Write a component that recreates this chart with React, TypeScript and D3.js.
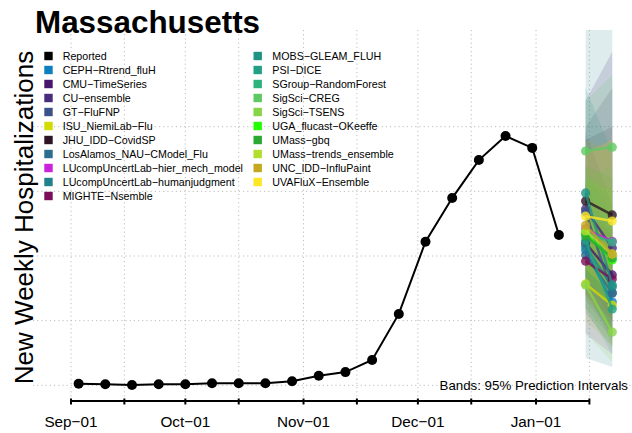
import React from "react";
import * as d3 from "d3";

const reportedDates = [
  "2023-09-03", "2023-09-10", "2023-09-17", "2023-09-24", "2023-10-01",
  "2023-10-08", "2023-10-15", "2023-10-22", "2023-10-29", "2023-11-05",
  "2023-11-12", "2023-11-19", "2023-11-26", "2023-12-03", "2023-12-10",
  "2023-12-17", "2023-12-24", "2023-12-31", "2024-01-07",
];
const reportedValues = [6, 4, 1, 4, 4, 8, 8, 8, 16, 37, 51, 98, 276, 555, 724, 871, 964, 918, 581];

const forecastDates = ["2024-01-14", "2024-01-21"];

const modelNames = [
  "CEPH\u2212Rtrend_fluH",
  "CMU\u2212TimeSeries",
  "CU\u2212ensemble",
  "GT\u2212FluFNP",
  "ISU_NiemiLab\u2212Flu",
  "JHU_IDD\u2212CovidSP",
  "LosAlamos_NAU\u2212CModel_Flu",
  "LUcompUncertLab\u2212hier_mech_model",
  "LUcompUncertLab\u2212humanjudgment",
  "MIGHTE\u2212Nsemble",
  "MOBS\u2212GLEAM_FLUH",
  "PSI\u2212DICE",
  "SGroup\u2212RandomForest",
  "SigSci\u2212CREG",
  "SigSci\u2212TSENS",
  "UGA_flucast\u2212OKeeffe",
  "UMass\u2212gbq",
  "UMass\u2212trends_ensemble",
  "UNC_IDD\u2212InfluPaint",
  "UVAFluX\u2212Ensemble",
];
const modelColors = [
  "#0c7fbf", "#47166e", "#472d7b", "#3b528b", "#d2dc00",
  "#2d1525", "#2c6e8e", "#cc22dd", "#21818c", "#7a0e58",
  "#1e9384", "#21a085", "#2eb37c", "#5ec962", "#86d549",
  "#22ff00", "#2aa832", "#b2de2e", "#c4a820", "#fde725",
];
const pointH1 = [523, 550, 682, 670, 392, 713, 504, 604, 538, 480, 744, 561, 589, 906, 388, 589, 577, 597, 619, 654];
const pointH2 = [322, 427, 531, 357, 310, 659, 357, 557, 380, 411, 388, 295, 554, 921, 206, 485, 492, 508, 507, 635];
const lowerH1 = [300, 330, 420, 380, 250, 500, 280, 200, 106, 350, 400, 300, 420, 650, 200, 420, 350, 300, 350, 450];
const lowerH2 = [180, 200, 250, 160, 150, 380, 150, 120, 71, 250, 200, 120, 300, 500, 90, 300, 200, 150, 200, 350];
const upperH1 = [780, 1100, 1000, 980, 560, 950, 800, 900, 2000, 650, 1150, 850, 800, 1100, 650, 800, 850, 900, 950, 900];
const upperH2 = [560, 1290, 1150, 700, 520, 1000, 700, 950, 2200, 600, 900, 650, 850, 1200, 550, 750, 800, 950, 900, 950];

const tickDates = [
  "2023-09-01", "2023-09-15", "2023-10-01", "2023-10-15", "2023-11-01",
  "2023-11-15", "2023-12-01", "2023-12-15", "2024-01-01", "2024-01-15",
];
const tickLabels = ["Sep\u221201", "", "Oct\u221201", "", "Nov\u221201", "", "Dec\u221201", "", "Jan\u221201", ""];
const gridValues = [0, 250, 500, 750, 1000];

const W = 632;
const H = 433;
const FONT = "'Liberation Sans', Arial, Helvetica, sans-serif";

export default function App() {
  const x = d3
    .scaleUtc()
    .domain([new Date("2023-09-01"), new Date("2024-01-15")])
    .range([71, 589.4]);
  const y = d3.scaleLinear().domain([0, 1000]).range([385.3, 126.7]);

  const plotTop = 30;
  const plotBottom = 397;
  const plotLeft = 33;
  const plotRight = 640;

  const line = d3
    .line<[Date, number]>()
    .x((d) => x(d[0]))
    .y((d) => y(d[1]));

  const reported: [Date, number][] = reportedDates.map((d, i) => [new Date(d), reportedValues[i]]);
  const f1 = new Date(forecastDates[0]);
  const f2 = new Date(forecastDates[1]);

  const area = d3
    .area<{ d: Date; lo: number; hi: number }>()
    .x((p) => x(p.d))
    .y0((p) => y(p.lo))
    .y1((p) => y(p.hi));

  const legendCol1 = ["Reported", ...modelNames.slice(0, 10)];
  const legendCol1Colors = ["#000000", ...modelColors.slice(0, 10)];
  const legendCol2 = modelNames.slice(10);
  const legendCol2Colors = modelColors.slice(10);

  return (
    <svg
      width={W}
      height={H}
      style={{ position: "absolute", left: 0, top: 0, background: "#fff" }}
      fontFamily={FONT}
    >
      <defs>
        <clipPath id="plotclip">
          <rect x={plotLeft} y={plotTop} width={plotRight - plotLeft} height={plotBottom - plotTop} />
        </clipPath>
      </defs>
      <rect x={0} y={0} width={W} height={H} fill="#fff" />

      {/* grid */}
      <g stroke="#bdbdbd" strokeWidth={1} strokeDasharray="1.2,3">
        {gridValues.map((v) => (
          <line key={"h" + v} x1={plotLeft} x2={plotRight} y1={y(v)} y2={y(v)} />
        ))}
        {tickDates.map((t) => (
          <line key={"v" + t} x1={x(new Date(t))} x2={x(new Date(t))} y1={plotTop} y2={plotBottom} />
        ))}
      </g>

      {/* bands */}
      <g clipPath="url(#plotclip)">
        {modelNames.map((m, i) => (
          <path
            key={"band" + m}
            d={
              area([
                { d: f1, lo: lowerH1[i], hi: upperH1[i] },
                { d: f2, lo: lowerH2[i], hi: upperH2[i] },
              ]) || ""
            }
            fill={modelColors[i]}
            fillOpacity={0.15}
            stroke="none"
          />
        ))}
      </g>

      {/* reported */}
      <path d={line(reported) || ""} fill="none" stroke="#000" strokeWidth={2} />
      {reported.map((p, i) => (
        <circle key={"r" + i} cx={x(p[0])} cy={y(p[1])} r={5} fill="#000" />
      ))}

      {/* forecasts */}
      <g clipPath="url(#plotclip)">
        {modelNames.map((m, i) => (
          <g key={"fc" + m}>
            <path
              d={line([[f1, pointH1[i]], [f2, pointH2[i]]]) || ""}
              fill="none"
              stroke={modelColors[i]}
              strokeWidth={2.5}
              strokeOpacity={0.8}
            />
            <circle cx={x(f1)} cy={y(pointH1[i])} r={4.6} fill={modelColors[i]} fillOpacity={0.8} />
            <circle cx={x(f2)} cy={y(pointH2[i])} r={4.6} fill={modelColors[i]} fillOpacity={0.8} />
          </g>
        ))}
      </g>

      {/* x axis */}
      <line
        x1={x(new Date(tickDates[0]))}
        x2={x(new Date(tickDates[tickDates.length - 1]))}
        y1={401}
        y2={401}
        stroke="#000"
        strokeWidth={2}
      />
      {tickDates.map((t, i) => (
        <g key={"t" + t}>
          <line x1={x(new Date(t))} x2={x(new Date(t))} y1={398.5} y2={404.5} stroke="#000" strokeWidth={2} />
          {tickLabels[i] && (
            <text x={x(new Date(t))} y={427} textAnchor="middle" fontSize={15.3} fill="#000">
              {tickLabels[i]}
            </text>
          )}
        </g>
      ))}

      {/* y label */}
      <text
        transform={`translate(32.5,217.5) rotate(-90)`}
        textAnchor="middle"
        fontSize={26}
        fill="#000"
      >
        New Weekly Hospitalizations
      </text>

      {/* title */}
      <text x={35} y={32.7} fontSize={31.4} fontWeight="bold" fill="#000">
        Massachusetts
      </text>

      {/* legend */}
      <g fontSize={10.7} fill="#000">
        {legendCol1.map((n, i) => (
          <g key={"l1" + n}>
            <rect x={44.3} y={56 + i * 14 - 4.2} width={8.4} height={8.4} fill={legendCol1Colors[i]} />
            <text x={62.7} y={56 + i * 14 + 3.8}>{n}</text>
          </g>
        ))}
        {legendCol2.map((n, i) => (
          <g key={"l2" + n}>
            <rect x={253.5} y={56 + i * 14 - 4.2} width={8.4} height={8.4} fill={legendCol2Colors[i]} />
            <text x={272.3} y={56 + i * 14 + 3.8}>{n}</text>
          </g>
        ))}
      </g>

      <text x={628} y={389.7} textAnchor="end" fontSize={13.3} fill="#000">
        Bands: 95% Prediction Intervals
      </text>
    </svg>
  );
}
